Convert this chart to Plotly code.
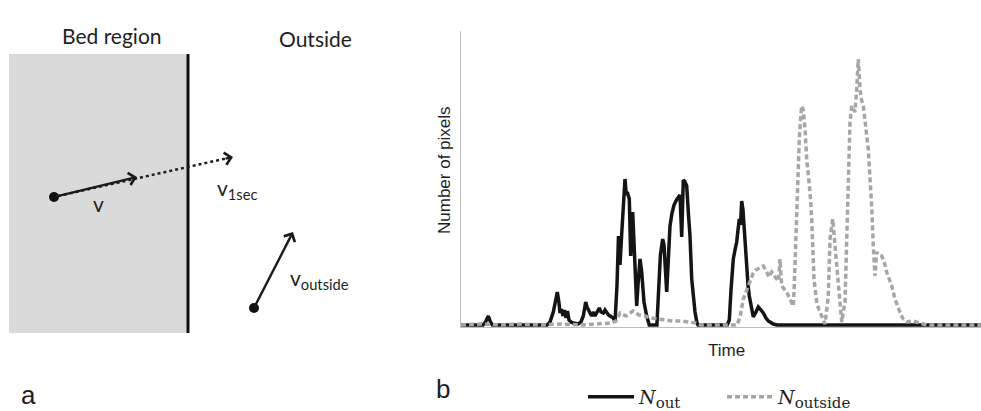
import plotly.graph_objects as go

# ---------------- data (panel b) ----------------
time_out = [0, 22, 24.5, 27.3, 29.5, 31.5,
            86, 89, 92.3, 94.5, 96.3, 98, 99, 100.5, 102, 103.5,
            105, 106.5, 108, 110, 112.3, 117.3, 120, 122.3, 124.7, 126,
            127.3, 129, 130.7, 132.5, 134, 136, 138.3, 140, 142.3, 144,
            145.7, 147.5, 149, 152.3, 154, 156, 157.5, 159, 160.7, 162.3,
            164, 165.3, 166.3, 168.3, 169.7, 171.7, 173.3, 175.7, 177, 179,
            180.7, 183, 185.7, 188.3, 195.9, 197.6, 199.4, 201.7, 203, 205.7,
            207, 209, 211, 213, 215.5, 217, 219, 220.7, 222.3, 224,
            225.7, 227.5, 229, 230.7, 232.5, 234, 236, 237, 266.2, 268.3,
            270, 272.3, 274, 275.7, 277, 278.3, 279.5, 280.7, 282, 283,
            284, 285.7, 287, 288.3, 290.7, 292.3, 294.5, 297.3, 300, 302.3,
            305, 307.3, 312.3, 316, 520]
n_out = [0, 0, 3, 9, 3, 0,
         0, 3, 13, 24, 33, 22, 12, 16, 9, 15,
         7, 14, 5, 3, 2, 1, 3, 9, 23, 18,
         16, 12, 9, 13, 9, 12, 17, 13, 12, 15,
         12, 10, 9, 7, 3, 40, 89, 60, 91, 123,
         146, 130, 133, 126, 69, 113, 73, 19, 40, 66,
         53, 23, 9, 0, 0, 40, 70, 86, 80, 33,
         60, 99, 112, 120, 125, 127, 130, 88, 145, 143,
         139, 110, 89, 46, 25, 13, 2, 0, 0, 5,
         35, 66, 75, 83, 95, 106, 100, 124, 115, 99,
         79, 52, 40, 29, 13, 8, 12, 18, 15, 12,
         7, 4, 1, 0, 0]

time_outside = [0, 20, 40, 60, 80, 100, 120, 140,
                150, 155, 159, 165, 172, 178, 184, 190, 199, 206,
                212, 220, 229, 235, 240, 276, 279, 282.3, 285, 287.3,
                290, 292.3, 295, 297.3, 300, 302.3, 305.7, 308, 310.7, 313,
                315.7, 317.5, 319, 320.7, 323, 325.7, 328, 330.7, 332.3, 333.3,
                334.3, 335.7, 336.5, 337.5, 338.3, 339.5, 340.7, 342.3, 344, 345.7,
                347.3, 349, 350.7, 351.7, 353, 355.7, 358, 360.7, 364, 367.3,
                369, 371.7, 374, 375.7, 378.3, 380.7, 384, 385.7, 387.3, 389,
                390.7, 392.3, 394, 395.7, 397.3, 399, 400.5, 402.3, 405, 407.3,
                409, 410.7, 412.3, 414, 415.7, 418, 420.7, 423, 425.7, 428,
                430.7, 434, 437.3, 440, 442.3, 446, 452, 459, 466, 520]
n_outside = [0, 1, 0, 1, 0, 1, 0, 1,
             2, 4, 12, 9, 14, 10, 9, 7, 6, 5,
             4, 4, 3, 2, 0, 0, 8, 26, 33, 39,
             46, 52, 55, 56, 58, 59, 53, 48, 53, 49,
             46, 44, 66, 39, 36, 33, 28, 23, 19, 40,
             70, 112, 146, 160, 186, 205, 219, 215, 196, 166,
             153, 133, 106, 73, 46, 23, 15, 9, 1, 29,
             86, 106, 79, 53, 23, 3, 23, 86, 153, 203,
             219, 216, 213, 236, 266, 236, 225, 219, 193, 176,
             146, 119, 79, 49, 73, 70, 69, 64, 53, 46,
             39, 26, 16, 10, 6, 3, 4, 2, 0, 0]

series_names = ['<i>N</i><sub><span style="font-size:15px">out</span></sub>',
                '<i>N</i><sub><span style="font-size:15px">outside</span></sub>']

# ---------------- figure ----------------
W, H = 981, 411
fig = go.Figure()

fig.add_trace(go.Scatter(x=time_out, y=n_out, mode="lines", name=series_names[0],
                         line=dict(color="#141414", width=3.5),
                         xaxis="x", yaxis="y", hoverinfo="skip"))
fig.add_trace(go.Scatter(x=time_outside, y=n_outside, mode="lines", name=series_names[1],
                         line=dict(color="#a6a6a6", width=3.5, dash="5px,3px"),
                         xaxis="x", yaxis="y", hoverinfo="skip"))

axis_common = dict(showgrid=False, zeroline=False, showticklabels=False, ticks="",
                   showline=True, linecolor="#bdbdbd", linewidth=1, fixedrange=True)

shapes = []
annotations = []
DIAG = dict(xref="x2", yref="y2")
PAPER = dict(xref="paper", yref="paper", xanchor="center", yanchor="middle", showarrow=False)
TXT = "#1e1e1e"

# ---------------- panel a (schematic diagram in pixel-like coordinates) ----------------
shapes.append(dict(type="rect", x0=9, x1=188, y0=54, y1=333, fillcolor="#dadada",
                   line=dict(width=0), layer="below", **DIAG))
shapes.append(dict(type="line", x0=188, x1=188, y0=54, y1=333,
                   line=dict(color="#111111", width=3), **DIAG))
shapes.append(dict(type="line", x0=58, y0=196, x1=228, y1=158,
                   line=dict(color="#1e1e1e", width=2.5, dash="dot"), **DIAG))
for cx, cy in [(54, 197), (254, 308)]:
    shapes.append(dict(type="circle", x0=cx - 5, x1=cx + 5, y0=cy - 5, y1=cy + 5,
                       fillcolor="#111111", line=dict(width=0), **DIAG))

arrow_common = dict(showarrow=True, arrowhead=4, arrowsize=1, arrowwidth=2.4,
                    arrowcolor="#1a1a1a", text="", axref="x2", ayref="y2", **DIAG)
annotations.append(dict(x=137, y=177, ax=54, ay=197, **arrow_common))
annotations.append(dict(x=233, y=157, ax=224, ay=159, **arrow_common))
annotations.append(dict(x=293, y=232, ax=254, ay=308, **arrow_common))

lato = dict(family="Lato", size=21, color=TXT)
annotations += [
    dict(x=112, y=35, text="Bed region", showarrow=False, font=lato, **DIAG),
    dict(x=315, y=38, text="Outside", showarrow=False, font=lato, **DIAG),
    dict(x=98, y=203, text="v", showarrow=False, font=lato, **DIAG),
    dict(x=215, y=189, text="v<sub>1sec</sub>", showarrow=False, font=lato,
         xanchor="left", **DIAG),
    dict(x=288, y=279, text="v<sub>outside</sub>", showarrow=False, font=lato,
         xanchor="left", **DIAG),
    dict(x=28, y=395, text="a", showarrow=False, borderpad=0,
         font=dict(family="Liberation Sans", size=26, color=TXT), **DIAG),
]

# ---------------- panel b labels ----------------
annotations += [
    dict(x=443 / W, y=1 - 389 / H, text="b", borderpad=0,
         font=dict(family="Liberation Sans", size=26, color=TXT), **PAPER),
    dict(x=445 / W, y=1 - 170 / H, text="Number of pixels", textangle=-90,
         font=dict(family="Liberation Sans", size=17, color=TXT), **PAPER),
    dict(x=726 / W, y=1 - 350 / H, text="Time",
         font=dict(family="Liberation Sans", size=17, color=TXT), **PAPER),
]

fig.update_layout(
    width=W, height=H, template="none",
    margin=dict(l=0, r=0, t=0, b=0, autoexpand=False),
    paper_bgcolor="white", plot_bgcolor="white",
    xaxis=dict(domain=[461 / W, 1.0], range=[0, 520], anchor="y", **axis_common),
    yaxis=dict(domain=[84 / H, 380 / H], range=[-2, 294], anchor="x", **axis_common),
    xaxis2=dict(domain=[0, 400 / W], range=[0, 400], anchor="y2", visible=False, fixedrange=True),
    yaxis2=dict(domain=[0, 1], range=[H, 0], anchor="x2", visible=False, fixedrange=True),
    showlegend=True,
    legend=dict(orientation="h", x=583 / W, xanchor="left", y=1 - 397 / H, yanchor="middle",
                font=dict(family="DejaVu Serif", size=19, color=TXT),
                itemwidth=46, entrywidth=78, bgcolor="rgba(0,0,0,0)"),
    shapes=shapes, annotations=annotations,
)

fig.write_html("out.html", config={"displayModeBar": False},
               post_script="document.body.style.margin='0';document.body.style.overflow='hidden';")
